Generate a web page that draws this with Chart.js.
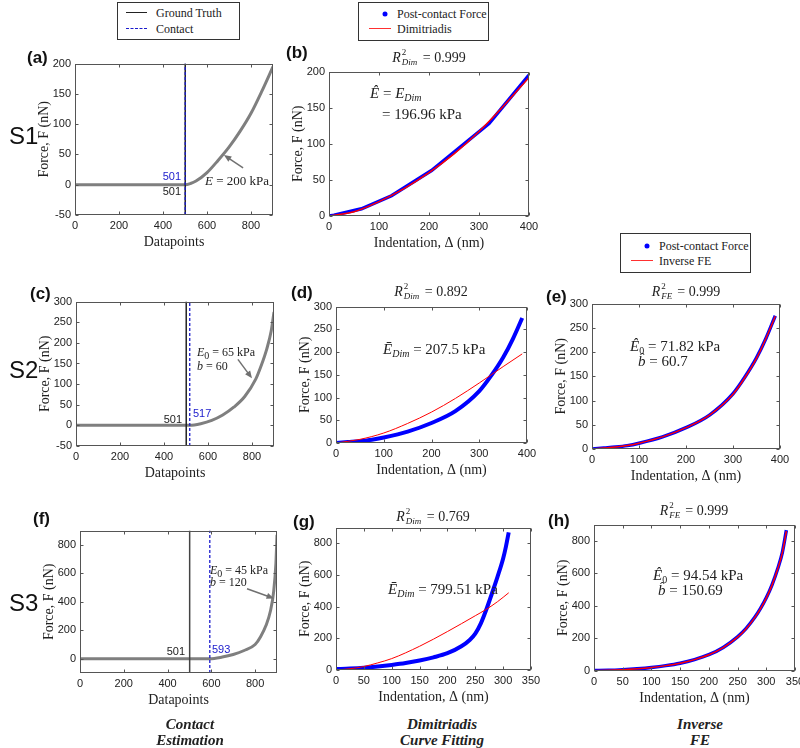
<!DOCTYPE html>
<html>
<head>
<meta charset="utf-8">
<script src="https://cdn.jsdelivr.net/npm/chart.js@4.4.0/dist/chart.umd.min.js"></script>
<style>
body { margin: 0; width: 800px; height: 748px; position: relative; background: #fff; overflow: hidden; font-family: "Liberation Serif", serif; color: #222; }
.panel { position: absolute; }
.t { position: absolute; white-space: nowrap; transform: translateY(-50%); line-height: 1; }
.c { transform: translate(-50%, -50%); }
.tag { font-family: "Liberation Sans", Arial, sans-serif; font-weight: bold; font-size: 17px; color: #111; }
.row { font-family: "Liberation Sans", Arial, sans-serif; font-size: 24px; color: #111; }
.num { font-family: "Liberation Sans", Arial, sans-serif; font-size: 11px; }
.math { font-size: 14px; }
.cap { font-weight: bold; font-style: italic; font-size: 15px; }
.ss { display: inline-block; position: relative; width: 22px; height: 10px; }
.ss .up { position: absolute; left: 1px; top: -4px; font-size: 9px; }
.ss .dn { position: absolute; left: 1px; top: 6px; font-size: 9px; font-style: italic; }
sub { font-size: 10px; vertical-align: -3px; line-height: 0; }
.legend { position: absolute; border: 1px solid #333; background: #fff; font-size: 12px; }
.legend .item { position: absolute; white-space: nowrap; transform: translateY(-50%); }
.legend .ln { position: absolute; height: 0; }
.legend .dot { position: absolute; width: 5px; height: 5px; border-radius: 50%; background: #0000ff; transform: translate(-50%, -50%); }
</style>
</head>
<body>

<!-- legends -->
<div class="legend" style="left:117px;top:2px;width:121px;height:36px;">
  <div class="ln" style="left:8px;top:9px;width:21px;border-top:1.5px solid #222;"></div>
  <div class="item" style="left:38px;top:10px;">Ground Truth</div>
  <div class="ln" style="left:8px;top:25px;width:21px;border-top:1.5px dashed #1a1acc;"></div>
  <div class="item" style="left:38px;top:26px;">Contact</div>
</div>
<div class="legend" style="left:358px;top:2px;width:129px;height:37px;">
  <div class="dot" style="left:26px;top:11px;"></div>
  <div class="item" style="left:38px;top:11px;">Post-contact Force</div>
  <div class="ln" style="left:10px;top:25px;width:22px;border-top:1.5px solid #ff3030;"></div>
  <div class="item" style="left:38px;top:26px;">Dimitriadis</div>
</div>
<div class="legend" style="left:620px;top:233px;width:129px;height:38px;">
  <div class="dot" style="left:26px;top:12px;"></div>
  <div class="item" style="left:38px;top:12px;">Post-contact Force</div>
  <div class="ln" style="left:10px;top:26px;width:22px;border-top:1.5px solid #ff3030;"></div>
  <div class="item" style="left:38px;top:27px;">Inverse FE</div>
</div>

<!-- chart panels -->
<div class="panel" id="pa"><canvas id="ca"></canvas></div>
<div class="panel" id="pb"><canvas id="cb"></canvas></div>
<div class="panel" id="pc"><canvas id="cc"></canvas></div>
<div class="panel" id="pd"><canvas id="cd"></canvas></div>
<div class="panel" id="pe"><canvas id="ce"></canvas></div>
<div class="panel" id="pf"><canvas id="cf"></canvas></div>
<div class="panel" id="pg"><canvas id="cg"></canvas></div>
<div class="panel" id="ph"><canvas id="ch"></canvas></div>

<!-- row labels and panel tags -->
<div class="t row" style="left:9px;top:136px;">S1</div>
<div class="t row" style="left:9px;top:370px;">S2</div>
<div class="t row" style="left:9px;top:603px;">S3</div>
<div class="t tag" style="left:27px;top:57px;">(a)</div>
<div class="t tag" style="left:286px;top:52px;">(b)</div>
<div class="t tag" style="left:30px;top:293px;">(c)</div>
<div class="t tag" style="left:291px;top:292px;">(d)</div>
<div class="t tag" style="left:546px;top:296px;">(e)</div>
<div class="t tag" style="left:33px;top:518px;">(f)</div>
<div class="t tag" style="left:293px;top:521px;">(g)</div>
<div class="t tag" style="left:548px;top:520px;">(h)</div>

<!-- contact markers -->
<div class="t num" style="right:619px;top:176px;color:#1a1acc;">501</div>
<div class="t num" style="right:619px;top:191px;">501</div>
<div class="t num" style="right:618px;top:419px;">501</div>
<div class="t num" style="left:193px;top:413px;color:#1a1acc;">517</div>
<div class="t num" style="right:615px;top:651px;">501</div>
<div class="t num" style="left:212px;top:649px;color:#1a1acc;">593</div>

<!-- annotations -->
<div class="t" style="left:205px;top:180px;font-size:13px;"><i>E</i> = 200 kPa</div>
<div class="t c math" style="left:429px;top:58px;"><i>R</i><span class="ss"><span class="up">2</span><span class="dn">Dim</span></span>= 0.999</div>
<div class="t" style="left:370px;top:93px;font-size:15px;"><i>Ê</i> = <i>E</i><sub><i>Dim</i></sub></div>
<div class="t" style="left:382px;top:114px;font-size:15px;">= 196.96 kPa</div>
<div class="t" style="left:197px;top:352px;font-size:12px;"><i>E</i><sub>0</sub> = 65 kPa</div>
<div class="t" style="left:197px;top:366px;font-size:12px;"><i>b</i> = 60</div>
<div class="t c math" style="left:431px;top:292px;"><i>R</i><span class="ss"><span class="up">2</span><span class="dn">Dim</span></span>= 0.892</div>
<div class="t" style="left:383px;top:349px;font-size:15px;"><i>Ē</i><sub><i>Dim</i></sub> = 207.5 kPa</div>
<div class="t c math" style="left:686px;top:292px;"><i>R</i><span class="ss" style="width:17px;"><span class="up">2</span><span class="dn">FE</span></span>= 0.999</div>
<div class="t" style="left:630px;top:346px;font-size:15px;"><i>Ê</i><sub>0</sub> = 71.82 kPa</div>
<div class="t" style="left:638px;top:361px;font-size:15px;"><i>b̂</i> = 60.7</div>
<div class="t" style="left:210px;top:570px;font-size:12px;"><i>E</i><sub>0</sub> = 45 kPa</div>
<div class="t" style="left:210px;top:582px;font-size:12px;"><i>b</i> = 120</div>
<div class="t c math" style="left:433px;top:517px;"><i>R</i><span class="ss"><span class="up">2</span><span class="dn">Dim</span></span>= 0.769</div>
<div class="t" style="left:388px;top:589px;font-size:15px;"><i>Ē</i><sub><i>Dim</i></sub> = 799.51 kPa</div>
<div class="t c math" style="left:694px;top:511px;"><i>R</i><span class="ss" style="width:17px;"><span class="up">2</span><span class="dn">FE</span></span>= 0.999</div>
<div class="t" style="left:653px;top:575px;font-size:15px;"><i>Ê</i><sub>0</sub> = 94.54 kPa</div>
<div class="t" style="left:658px;top:590px;font-size:15px;"><i>b̂</i> = 150.69</div>

<!-- column captions -->
<div class="t c cap" style="left:190px;top:724px;">Contact</div>
<div class="t c cap" style="left:190px;top:740px;">Estimation</div>
<div class="t c cap" style="left:442px;top:724px;">Dimitriadis</div>
<div class="t c cap" style="left:442px;top:740px;">Curve Fitting</div>
<div class="t c cap" style="left:700px;top:724px;">Inverse</div>
<div class="t c cap" style="left:700px;top:740px;">FE</div>

<script>
// ---- S1 (a, b) ----
const s1Points = [0, 100, 200, 300, 400, 501, 525, 550, 600, 650, 700, 750, 800, 850, 900];
const s1Force = [0, 0, 0, 0, 0, 0, 2, 6, 20, 40, 62, 88, 118, 155, 195];
const s1Truth = 501;
const s1Contact = 501;
const s1Indent = [0, 10, 65, 125, 205, 320, 400];
const s1PostForce = [0, 1, 10, 28, 63, 128, 195];
const s1DimIndent = [0, 50, 100, 150, 200, 250, 300, 350, 400];
const s1DimForce = [0, 6, 20, 38, 60, 86, 117, 153, 192];

// ---- S2 (c, d, e) ----
const s2Points = [0, 200, 400, 517, 567, 617, 667, 717, 767, 817, 842, 867, 887, 900];
const s2Force = [0, 0, 0, 0, 4, 12, 25, 44, 70, 112, 145, 185, 228, 275];
const s2Truth = 501;
const s2Contact = 517;
const s2Indent = [0, 25, 50, 75, 100, 150, 200, 250, 300, 325, 350, 370, 390];
const s2PostForce = [0, 2, 4, 7, 12, 25, 44, 70, 114, 148, 188, 228, 275];
const s2DimIndent = [0, 50, 100, 150, 200, 250, 300, 350, 390];
const s2DimForce = [0, 8, 22, 43, 68, 98, 132, 168, 196];
const s2FEForce = [0, 2, 4, 7, 12, 25, 44, 70, 113, 147, 187, 228, 274];

// ---- S3 (f, g, h) ----
const s3Points = [0, 200, 400, 593, 650, 700, 750, 800, 825, 850, 870, 885, 895, 900];
const s3Force = [0, 0, 0, 0, 12, 30, 58, 100, 155, 235, 335, 475, 670, 870];
const s3Truth = 501;
const s3Contact = 593;
const s3Indent = [0, 25, 50, 75, 100, 125, 150, 175, 200, 225, 240, 250, 260, 270, 280, 290, 300, 305, 310];
const s3PostForce = [6, 9, 14, 22, 32, 44, 60, 80, 106, 150, 190, 230, 295, 384, 485, 590, 705, 780, 870];
const s3DimIndent = [0, 25, 50, 75, 100, 150, 200, 250, 270, 290, 310];
const s3DimForce = [0, 8, 22, 45, 72, 150, 243, 343, 384, 432, 488];
const s3FEIndent = [0, 25, 50, 75, 100, 125, 150, 175, 200, 225, 250, 265, 280, 290, 300, 310, 320, 328, 335];
const s3FEPost = [3, 4, 8, 14, 22, 33, 48, 70, 100, 145, 210, 262, 330, 385, 450, 530, 630, 730, 866];
const s3FEForce = [2, 4, 8, 14, 22, 33, 48, 70, 100, 144, 208, 260, 328, 383, 448, 528, 628, 728, 860];

// ---- tick labels ----
const pointTicks = [0, 200, 400, 600, 800];
const indentTicks400 = [0, 100, 200, 300, 400];
const indentTicks350 = [0, 50, 100, 150, 200, 250, 300, 350];
const forceTicksS1 = [-50, 0, 50, 100, 150, 200];
const forceTicksS1fit = [0, 50, 100, 150, 200];
const forceTicksS2 = [-50, 0, 50, 100, 150, 200, 250, 300];
const forceTicksS2fit = [0, 50, 100, 150, 200, 250, 300];
const forceTicksS3 = [0, 200, 400, 600, 800];

const GRAY = '#7f7f7f', BLUE = '#0000ff', RED = '#ff0000', AXIS = '#555';
const Y_W = 39, X_H = 36, PAD_T = 8, PAD_R = 16;

function xy(xs, ys) {
    return xs.map((v, i) => ({x: v, y: ys[i]}));
}

function vline(v, lo, hi, color, dash, width) {
    return {data: [{x: v, y: lo}, {x: v, y: hi}], borderColor: color, borderDash: dash, borderWidth: width, pointRadius: 0};
}

// MATLAB-like box with inward ticks + annotation arrows
const matAxes = {
    id: 'matAxes',
    afterDatasetsDraw(chart) {
        const {ctx, chartArea: a, scales} = chart;
        const L = Math.round(a.left) + 0.5, R = Math.round(a.right) - 0.5;
        const T = Math.round(a.top) + 0.5, B = Math.round(a.bottom) - 0.5;
        ctx.save();
        ctx.strokeStyle = AXIS;
        ctx.lineWidth = 1;
        ctx.setLineDash([]);
        ctx.strokeRect(L, T, R - L, B - T);
        ctx.beginPath();
        scales.x.ticks.forEach(t => {
            const p = Math.round(scales.x.getPixelForValue(t.value)) + 0.5;
            ctx.moveTo(p, B); ctx.lineTo(p, B - 3);
            ctx.moveTo(p, T); ctx.lineTo(p, T + 3);
        });
        scales.y.ticks.forEach(t => {
            const p = Math.round(scales.y.getPixelForValue(t.value)) + 0.5;
            ctx.moveTo(L, p); ctx.lineTo(L + 3, p);
            ctx.moveTo(R, p); ctx.lineTo(R - 3, p);
        });
        ctx.stroke();

        const arrows = chart.options.plugins.matAxes.arrows || [];
        arrows.forEach(ar => {
            const x1 = scales.x.getPixelForValue(ar[0]), y1 = scales.y.getPixelForValue(ar[1]);
            const x2 = scales.x.getPixelForValue(ar[2]), y2 = scales.y.getPixelForValue(ar[3]);
            const ang = Math.atan2(y2 - y1, x2 - x1);
            ctx.strokeStyle = '#707070';
            ctx.fillStyle = '#707070';
            ctx.lineWidth = 1.5;
            ctx.beginPath();
            ctx.moveTo(x1, y1);
            ctx.lineTo(x2 - 5 * Math.cos(ang), y2 - 5 * Math.sin(ang));
            ctx.stroke();
            ctx.beginPath();
            ctx.moveTo(x2, y2);
            ctx.lineTo(x2 - 8 * Math.cos(ang - 0.4), y2 - 8 * Math.sin(ang - 0.4));
            ctx.lineTo(x2 - 8 * Math.cos(ang + 0.4), y2 - 8 * Math.sin(ang + 0.4));
            ctx.closePath();
            ctx.fill();
        });
        ctx.restore();
    }
};

function panel(key, rect, xr, yr, xTicks, yTicks, xTitle, datasets, arrows) {
    const [l, t, r, b] = rect;
    const box = document.getElementById('p' + key);
    box.style.left = (l - Y_W) + 'px';
    box.style.top = (t - PAD_T) + 'px';
    box.style.width = (r - l + Y_W + PAD_R) + 'px';
    box.style.height = (b - t + PAD_T + X_H) + 'px';

    const tickFont = {family: '"Liberation Sans", Arial, sans-serif', size: 11};
    const titleFont = {family: '"Liberation Serif", serif', size: 14};

    new Chart(document.getElementById('c' + key), {
        type: 'line',
        data: {datasets: datasets},
        options: {
            responsive: true,
            maintainAspectRatio: false,
            animation: false,
            layout: {padding: {top: PAD_T, right: PAD_R, left: 0, bottom: 0}},
            elements: {line: {fill: false}},
            plugins: {legend: {display: false}, tooltip: {enabled: false}, matAxes: {arrows: arrows}},
            scales: {
                x: {
                    type: 'linear', min: xr[0], max: xr[1],
                    afterBuildTicks: s => { s.ticks = xTicks.map(v => ({value: v})); },
                    afterFit: s => { s.height = X_H; },
                    grid: {display: false, drawTicks: false},
                    border: {display: false},
                    ticks: {padding: 4, color: '#222', font: tickFont, maxRotation: 0, autoSkip: false},
                    title: {display: true, text: xTitle, color: '#222', font: titleFont, padding: 0}
                },
                y: {
                    type: 'linear', min: yr[0], max: yr[1],
                    afterBuildTicks: s => { s.ticks = yTicks.map(v => ({value: v})); },
                    afterFit: s => { s.width = Y_W; },
                    grid: {display: false, drawTicks: false},
                    border: {display: false},
                    ticks: {padding: 4, color: '#222', font: tickFont, autoSkip: false},
                    title: {display: true, text: 'Force, F (nN)', color: '#222', font: titleFont, padding: 0}
                }
            }
        },
        plugins: [matAxes]
    });
}

// note: Chart.js paints the first dataset on top, so overlays come first
const gray = (xs, ys) => ({data: xy(xs, ys), borderColor: GRAY, borderWidth: 3, pointRadius: 0, cubicInterpolationMode: 'monotone'});
const blue = (xs, ys, w) => ({data: xy(xs, ys), borderColor: BLUE, borderWidth: w, pointRadius: 0, cubicInterpolationMode: 'monotone'});
const red = (xs, ys, w) => ({data: xy(xs, ys), borderColor: RED, borderWidth: w, pointRadius: 0, cubicInterpolationMode: 'monotone'});

panel('a', [75, 61, 273, 215], [0, 900], [-50, 200], pointTicks, forceTicksS1, 'Datapoints', [
    vline(s1Contact, -50, 200, '#1a1acc', [3, 2], 1.3),
    vline(s1Truth, -50, 200, '#222', [], 1.5),
    gray(s1Points, s1Force)
], [[764, 28, 677, 49]]);

panel('b', [329, 69, 529, 216], [0, 400], [0, 200], indentTicks400, forceTicksS1fit, 'Indentation, Δ (nm)', [
    red(s1DimIndent, s1DimForce, 1.5),
    {data: xy(s1Indent, s1PostForce), borderColor: BLUE, borderWidth: 3.5, pointRadius: 0, tension: 0}
], []);

panel('c', [76, 299, 274, 446], [0, 900], [-50, 300], pointTicks, forceTicksS2, 'Datapoints', [
    vline(s2Contact, -50, 300, '#1a1acc', [3, 2], 1.3),
    vline(s2Truth, -50, 300, '#222', [], 1.5),
    gray(s2Points, s2Force)
], [[736, 160, 800, 114]]);

panel('d', [336, 304, 527, 443], [0, 400], [0, 300], indentTicks400, forceTicksS2fit, 'Indentation, Δ (nm)', [
    red(s2DimIndent, s2DimForce, 1),
    blue(s2Indent, s2PostForce, 4)
], []);

panel('e', [592, 301, 780, 449], [0, 400], [0, 300], indentTicks400, forceTicksS2fit, 'Indentation, Δ (nm)', [
    red(s2Indent, s2FEForce, 1.5),
    blue(s2Indent, s2PostForce, 3.5)
], []);

panel('f', [80, 528, 277, 673], [0, 900], [-100, 900], pointTicks, forceTicksS3, 'Datapoints', [
    vline(s3Contact, -100, 900, '#1a1acc', [3, 2], 1.3),
    vline(s3Truth, -100, 900, '#444', [], 1.5),
    gray(s3Points, s3Force)
], [[763, 492, 886, 424]]);

panel('g', [336, 525, 531, 670], [0, 350], [0, 900], indentTicks350, forceTicksS3, 'Indentation, Δ (nm)', [
    red(s3DimIndent, s3DimForce, 1),
    blue(s3Indent, s3PostForce, 4)
], []);

panel('h', [594, 522, 795, 671], [0, 350], [0, 900], indentTicks350, forceTicksS3, 'Indentation, Δ (nm)', [
    red(s3FEIndent, s3FEForce, 1.5),
    blue(s3FEIndent, s3FEPost, 3.5)
], []);
</script>
</body>
</html>
